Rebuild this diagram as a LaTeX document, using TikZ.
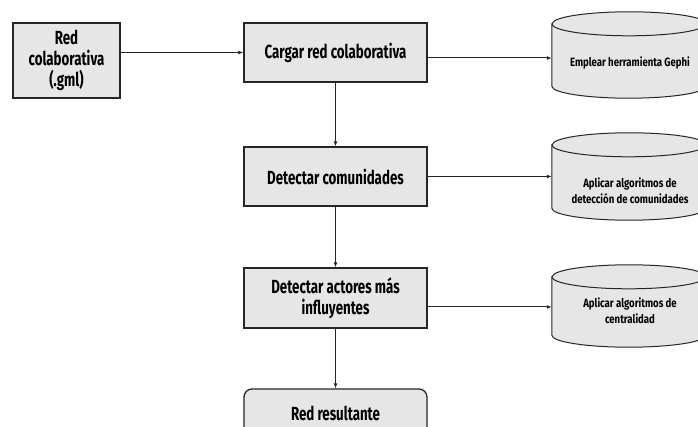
\documentclass[tikz,border=0pt]{standalone}
\usepackage{fontspec}
\newfontfamily\diagfont[FakeStretch=0.7]{Fira Sans}
\newfontfamily\toolfont[FakeStretch=0.8]{Fira Sans}
\usepackage{tikz}
\usetikzlibrary{arrows.meta, positioning, shapes.geometric}
\usepackage{xcolor}
\definecolor{boxgray}{HTML}{E6E6E6}
\definecolor{linegray}{HTML}{262626}
\tikzset{
  procbox/.style={draw=linegray, line width=1.3pt, fill=boxgray, align=center,
    minimum width=183pt, font=\diagfont\bfseries\fontsize{19}{21}\selectfont},
  toolarea/.style={inner sep=0pt, minimum width=154pt},
  toolline/.style={draw=linegray, line width=1pt, fill=boxgray},
  tooltext/.style={align=center, font=\toolfont\bfseries\fontsize{12}{16}\selectfont},
  flow/.style={line width=1pt, linegray, -{Latex[length=5pt, width=4pt]}}
}

\begin{document}
\begin{tikzpicture}[x=1pt, y=-1pt]
      \clip (0,0) rectangle (698,427);
      \fill[white] (0,0) rectangle (698,427);
      % main column
      \node[procbox, minimum width=107pt, minimum height=75pt] (red) at (66.5, 60.5)
        {Red\\colaborativa\\(.gml)};
      \node[procbox, minimum height=59pt] (cargar) at (335.5, 52.5) {Cargar red colaborativa};
      \node[procbox, minimum height=59pt] (comun) at (335.5, 176.5) {Detectar comunidades};
      \node[procbox, minimum height=60pt] (actores) at (335.5, 298)
        {Detectar actores más\\influyentes};
      \node[procbox, rounded corners=8pt, minimum height=48pt] (result) at (335.5, 413)
        {Red resultante};
      % tools (cylinders)
      \node[toolarea, minimum height=86pt] (gephi) at (629, 55) {};
      \node[toolarea, minimum height=87pt] (algcom) at (629, 176.5) {};
      \node[toolarea, minimum height=82pt] (algcen) at (629, 306) {};
      \foreach \t in {gephi, algcom, algcen} {
        \draw[toolline] ([yshift=-12pt]\t.north west) -- ([yshift=12pt]\t.south west)
          arc[start angle=180, end angle=360, x radius=77pt, y radius=12pt]
          -- ([yshift=-12pt]\t.north east)
          arc[start angle=0, end angle=180, x radius=77pt, y radius=12pt] -- cycle;
        \draw[toolline, fill=none] ([yshift=-12pt]\t.north west)
          arc[start angle=180, end angle=360, x radius=77pt, y radius=12pt];
      }
      \node[tooltext] (gephitxt) at (630, 63) {Emplear herramienta Gephi};
      \node[tooltext] (algcomtxt) at (630, 190.5) {Aplicar algoritmos de\\detección de comunidades};
      \node[tooltext] (algcentxt) at (630, 311) {Aplicar algoritmos de\\centralidad};
      % connectors
      \draw[flow] (cargar.west -| red.east) -- (cargar.west);
      \draw[flow] (cargar) -- (comun);
      \draw[flow] (comun) -- (actores);
      \draw[flow] (actores) -- (result);
      \draw[flow] ([yshift=-5.5pt]cargar.east) -- ([yshift=-5.5pt]cargar.east -| gephi.west);
      \draw[flow] (comun.east) -- (comun.east -| algcom.west);
      \draw[flow] ([yshift=-9pt]actores.east) -- ([yshift=-9pt]actores.east -| algcen.west);
    \end{tikzpicture}
\end{document}
